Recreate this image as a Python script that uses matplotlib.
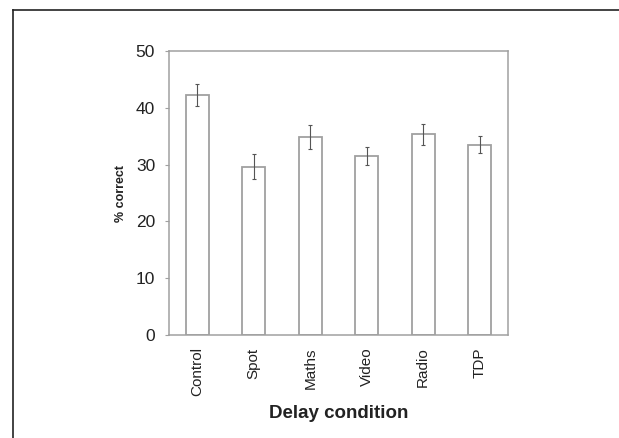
import matplotlib
matplotlib.use("Agg")
import matplotlib.pyplot as plt
from matplotlib.lines import Line2D

plt.rcParams.update({
    "font.family": ["Liberation Sans", "DejaVu Sans"],
})

conditions = ["Control", "Spot", "Maths", "Video", "Radio", "TDP"]
pct_correct = [42.2, 29.6, 34.9, 31.5, 35.3, 33.5]
err = [1.95, 2.2, 2.15, 1.55, 1.8, 1.5]

W, H = 619, 438
fig = plt.figure(figsize=(W / 100, H / 100), dpi=100)
ax = fig.add_axes([169 / W, 1 - 335 / H, (508 - 169) / W, (335 - 51) / H])

grey = "#a0a0a0"
x = range(len(conditions))
ax.bar(x, pct_correct, width=0.41, color="white", edgecolor=grey, linewidth=1.3)
ax.errorbar(x, pct_correct, yerr=err, fmt="none", ecolor="#555555",
            elinewidth=0.8, capsize=1.5, capthick=0.8)

ax.set_xlim(-0.5, 5.5)
ax.set_ylim(0, 50)
ax.set_yticks([0, 10, 20, 30, 40, 50])
ax.set_xticks(list(x))
ax.set_xticklabels(conditions, rotation=90, fontsize=11, color="#222222")
ax.tick_params(axis="y", labelsize=12.5, labelcolor="#222222", length=3, pad=7, color=grey)
ax.tick_params(axis="x", length=0, pad=9)
for s in ax.spines.values():
    s.set_color(grey)
    s.set_linewidth(1.1)

ax.set_xlabel("Delay condition", fontsize=13.5, fontweight="bold", color="#222222")
ax.xaxis.set_label_coords(0.5, -0.245)
ax.set_ylabel("% correct", fontsize=9, fontweight="bold", color="#222222")
ax.yaxis.set_label_coords(-0.124, 0.5)

# outer frame from the original page
fig.add_artist(Line2D([13 / W, 1], [1 - 10 / H, 1 - 10 / H], color="#222222",
                      linewidth=1.2, transform=fig.transFigure))
fig.add_artist(Line2D([13 / W, 13 / W], [0, 1 - 10 / H], color="#222222",
                      linewidth=1.2, transform=fig.transFigure))

fig.savefig("out.png", dpi=100)
